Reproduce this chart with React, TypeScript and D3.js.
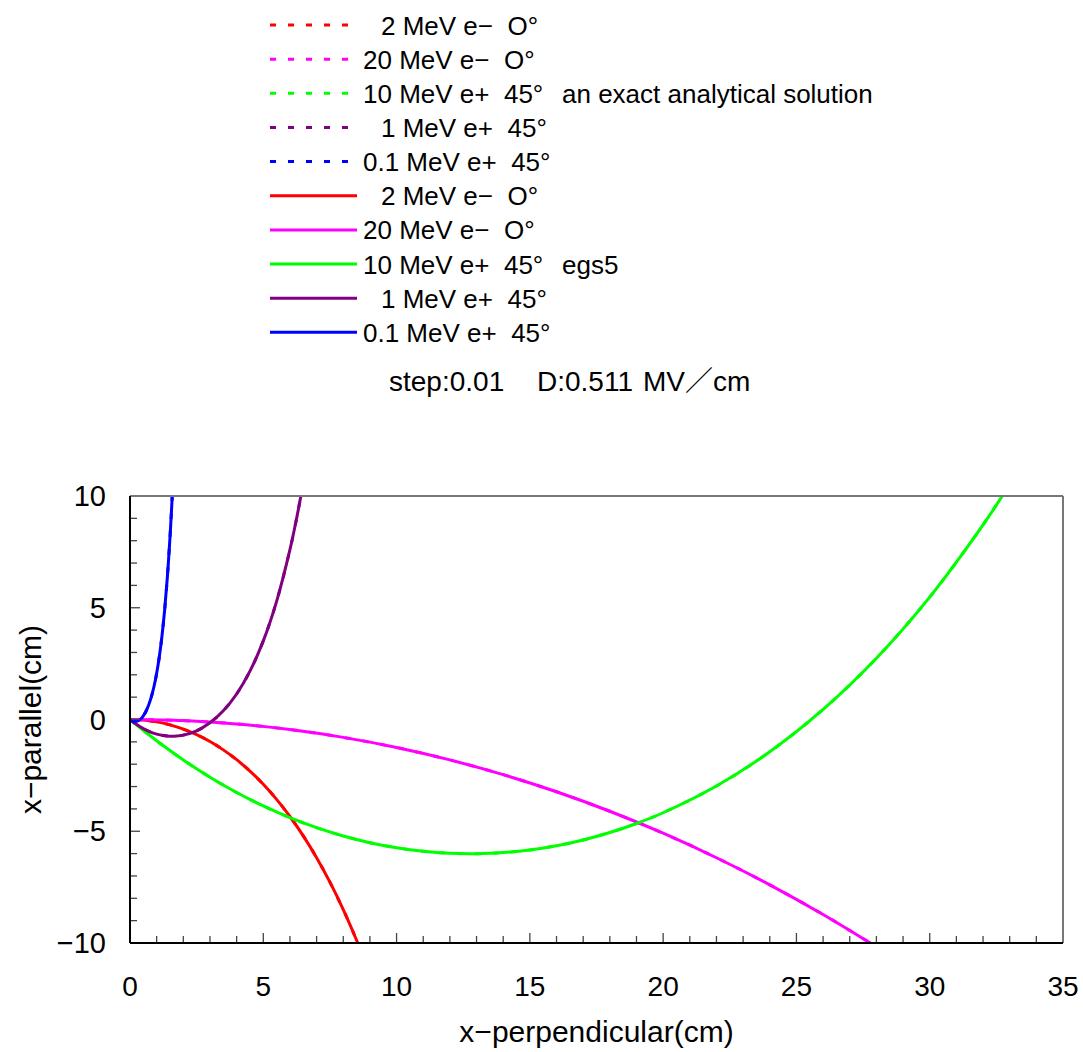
import React from "react";
import * as d3 from "d3";

// ---- data ----
const perp2MeV = [0, 0.5, 1, 1.5, 2, 2.5, 3, 3.5, 4, 4.5, 5, 5.5, 6, 6.5, 7, 7.5, 8, 8.5, 8.8];
const par2MeV = [0, -0.027, -0.107, -0.241, -0.431, -0.678, -0.986, -1.359, -1.798, -2.31, -2.899, -3.574, -4.34, -5.207, -6.183, -7.279, -8.506, -9.877, -10.78];

const perp20MeV = [0, 2, 4, 6, 8, 10, 12, 14, 16, 18, 20, 22, 24, 26, 28];
const par20MeV = [0, -0.05, -0.2, -0.45, -0.8, -1.253, -1.808, -2.468, -3.233, -4.106, -5.089, -6.185, -7.396, -8.724, -10.17];

const perp10MeV = [0, 1, 2, 3, 4, 5, 6, 7, 8, 9, 10, 11, 12, 13, 14, 15, 16, 17, 18, 19, 20, 22, 24, 26, 28, 30, 32, 33];
const par10MeV = [0, -0.952, -1.811, -2.581, -3.266, -3.869, -4.393, -4.84, -5.212, -5.512, -5.74, -5.898, -5.987, -6.006, -5.956, -5.837, -5.649, -5.389, -5.058, -4.653, -4.172, -2.976, -1.444, 0.449, 2.741, 5.477, 8.706, 10.526];

const perp1MeV = [0, 0.25, 0.5, 0.75, 1, 1.25, 1.5, 1.75, 2, 2.5, 3, 3.5, 4, 4.5, 5, 5.5, 6, 6.25, 6.5];
const par1MeV = [0, -0.227, -0.409, -0.551, -0.654, -0.719, -0.748, -0.741, -0.699, -0.504, -0.149, 0.388, 1.142, 2.163, 3.516, 5.288, 7.597, 8.997, 10.59];

const perp01MeV = [0, 0.05, 0.1, 0.2, 0.3, 0.4, 0.5, 0.6, 0.7, 0.8, 0.9, 1.0, 1.1, 1.2, 1.3, 1.4, 1.5, 1.55, 1.6];
const par01MeV = [0, -0.043, -0.073, -0.093, -0.062, 0.022, 0.163, 0.368, 0.645, 1.009, 1.475, 2.067, 2.81, 3.741, 4.903, 6.349, 8.149, 9.206, 10.385];

const energies = ["2", "20", "10", "1", "0.1"];
const particles = ["e−", "e−", "e+", "e+", "e+"];
const angles = ["O°", "O°", "45°", "45°", "45°"];
const colors = ["#ff0000", "#ff00ff", "#00ff00", "#800080", "#0000ff"];
const perpSeries = [perp2MeV, perp20MeV, perp10MeV, perp1MeV, perp01MeV];
const parSeries = [par2MeV, par20MeV, par10MeV, par1MeV, par01MeV];

const xTicks = [0, 5, 10, 15, 20, 25, 30, 35];
const yTicks = [-10, -5, 0, 5, 10];
const headerStep = "step:0.01";
const headerD = "D:0.511";
const headerUnit = "MV／cm";
const analyticalNote = "an exact analytical solution";
const egsNote = "egs5";
const xTitle = "x−perpendicular(cm)";
const yTitle = "x−parallel(cm)";

const W = 1083;
const H = 1052;
const left = 130;
const right = 1063;
const top = 496;
const bottom = 943;
const FONT = "'Liberation Sans', Arial, 'Noto Sans CJK JP', sans-serif";

export default function App() {
  const x = d3.scaleLinear().domain([0, 35]).range([left, right]);
  const y = d3.scaleLinear().domain([-10, 10]).range([bottom, top]);
  const line = d3
    .line<[number, number]>()
    .x((d) => x(d[0]))
    .y((d) => y(d[1]))
    .curve(d3.curveCatmullRom.alpha(0.5));

  const series = perpSeries.map((px, i) => ({
    color: colors[i],
    pts: px.map((v, j) => [v, parSeries[i][j]] as [number, number]),
  }));

  const minorX = d3.range(0, 36, 1);
  const minorY = d3.range(-10, 11, 1);
  const rowY = (i: number) => 25 + i * 34.15;

  return (
    <svg
      width={W}
      height={H}
      style={{ position: "absolute", left: 0, top: 0, background: "#fff" }}
      fontFamily={FONT}
    >
      <rect x={0} y={0} width={W} height={H} fill="#fff" />
      <defs>
        <clipPath id="plotClip">
          <rect x={left} y={top} width={right - left} height={bottom - top} />
        </clipPath>
      </defs>

      {/* Legend */}
      {[0, 1].map((block) =>
        energies.map((e, i) => {
          const r = block * 5 + i;
          const cy = rowY(r);
          return (
            <g key={`leg-${r}`}>
              {block === 0 ? (
                <line x1={270} x2={348} y1={cy} y2={cy} stroke={colors[i]} strokeWidth={3} strokeDasharray="6 12" />
              ) : (
                <line x1={270} x2={357} y1={cy} y2={cy} stroke={colors[i]} strokeWidth={3} />
              )}
              <text x={e.length === 1 ? 381 : 363} y={cy + 9.5} fontSize={26} fill="#000" style={{ whiteSpace: "pre" }}>
                {`${e} MeV ${particles[i]}  ${angles[i]}`}
              </text>
              {i === 2 && (
                <text x={562} y={cy + 9.5} fontSize={26} fill="#000">
                  {block === 0 ? analyticalNote : egsNote}
                </text>
              )}
            </g>
          );
        })
      )}

      <g fontSize={28} fill="#000">
        <text x={389} y={391}>{headerStep}</text>
        <text x={537} y={391}>{headerD}</text>
        <text x={643} y={391}>{headerUnit}</text>
      </g>

      {/* Curves: analytical (dashed) then egs5 (solid) */}
      <g clipPath="url(#plotClip)">
        {series.map((s, i) => (
          <path key={`a-${i}`} d={line(s.pts) || ""} fill="none" stroke={s.color} strokeWidth={3} strokeDasharray="6 12" />
        ))}
        {series.map((s, i) => (
          <path key={`s-${i}`} d={line(s.pts) || ""} fill="none" stroke={s.color} strokeWidth={3} />
        ))}
      </g>

      {/* Ticks */}
      {minorX.map((v) => (
        <line key={`xt-${v}`} x1={x(v)} x2={x(v)} y1={bottom} y2={bottom - (v % 5 === 0 ? 10 : 7)} stroke="#444" strokeWidth={1.3} />
      ))}
      {minorY.map((v) => (
        <line key={`yt-${v}`} x1={left} x2={left + (v % 5 === 0 ? 10 : 7)} y1={y(v)} y2={y(v)} stroke="#444" strokeWidth={1.3} />
      ))}

      {/* Frame */}
      <line x1={left} x2={right} y1={top} y2={top} stroke="#777" strokeWidth={2} />
      <line x1={right} x2={right} y1={top} y2={bottom} stroke="#777" strokeWidth={2} />
      <line x1={left} x2={right} y1={bottom} y2={bottom} stroke="#000" strokeWidth={2} />
      <line x1={left} x2={left} y1={top} y2={bottom} stroke="#000" strokeWidth={2} />

      {/* Tick labels */}
      {xTicks.map((v) => (
        <text key={`xl-${v}`} x={x(v)} y={996} fontSize={28} textAnchor="middle" fill="#000">
          {v}
        </text>
      ))}
      {yTicks.map((v) => (
        <text key={`yl-${v}`} x={106} y={y(v) + 10} fontSize={29} textAnchor="end" fill="#000">
          {v < 0 ? `−${Math.abs(v)}` : v}
        </text>
      ))}

      {/* Axis titles */}
      <text x={(left + right) / 2} y={1042} fontSize={30} textAnchor="middle" fill="#000">
        {xTitle}
      </text>
      <text transform={`translate(41, ${(top + bottom) / 2}) rotate(-90)`} fontSize={30} textAnchor="middle" fill="#000">
        {yTitle}
      </text>
    </svg>
  );
}
